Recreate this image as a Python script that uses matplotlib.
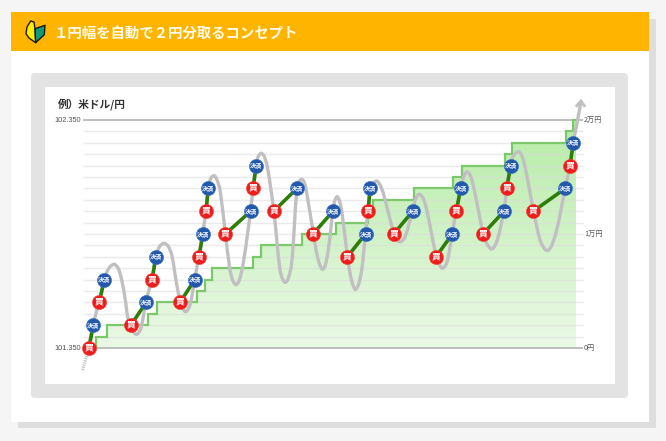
import numpy as np
import matplotlib
matplotlib.use('Agg')
import matplotlib.pyplot as plt
from matplotlib.patches import Rectangle, FancyBboxPatch, Polygon, PathPatch
from matplotlib.path import Path
from matplotlib.colors import LinearSegmentedColormap

plt.rcParams['font.family'] = ['Noto Sans CJK JP', 'DejaVu Sans']

TITLE = '１円幅を自動で２円分取るコンセプト'
SUBTITLE = '例）米ドル/円'
PRICE_LOW, PRICE_HIGH = 101.35, 102.35
PROFIT_LABELS = ['0円', '1万円', '2万円']
PROFIT_TICKS = [0, 10000, 20000]

# x is the time position (no scale on the chart), y the price
buy_x = [89, 99.3, 131, 152, 180, 199, 206, 225.3, 253, 273.7, 313, 347.3, 368, 393.7, 436, 456.3, 483, 506.7, 533.3, 570]
buy_y = [101.35, 101.55, 101.45, 101.65, 101.55, 101.75, 101.95, 101.85, 102.05, 101.95, 101.85, 101.75, 101.95, 101.85, 101.75, 101.95, 101.85, 102.05, 101.95, 102.15]
sell_x = [93.3, 104.3, 146, 156, 194.8, 202.8, 208.3, 250.7, 256.3, 297, 333, 365.5, 370.2, 412.7, 452.3, 460.7, 504, 510.7, 565.3, 573.3]
sell_y = [101.45, 101.65, 101.55, 101.75, 101.65, 101.85, 102.05, 101.95, 102.15, 102.05, 101.95, 101.85, 102.05, 101.95, 101.85, 102.05, 101.95, 102.15, 102.05, 102.25]

# profit line: one step of 1000 yen per closed trade
step_x = [96, 106.7, 147.7, 156.7, 196.7, 205.3, 211.7, 252.7, 260.7, 302.3, 335.7, 367.5, 372.7, 414, 453.3, 462.3, 505, 512.3, 566, 573.3]
step_yen = [1000, 2000, 3000, 4000, 5000, 6000, 7000, 8000, 9000, 10000, 11000, 12000, 13000, 14000, 15000, 16000, 17000, 18000, 19000, 20000]

# price curve
curve_x = [88, 93.3, 99.3, 104.3, 109, 114, 118, 121.7, 125, 128.3, 132, 136.7, 141, 146, 152, 156, 160, 164, 168, 171.7, 176, 180, 183, 186, 190,
           194.8, 199, 202.8, 206, 208.3, 211, 214.3, 217, 220, 225.3, 230, 233, 236, 239, 243.3, 250.7, 253, 256.3, 258.5, 261.3, 264, 267.3, 273.7,
           280, 283, 285.3, 288, 291.7, 297, 299.5, 302, 304.5, 306.7, 313.3, 318, 322.3, 325, 328.3, 333, 335, 337.3, 339.5, 342, 347.3, 351, 355, 358,
           361.7, 365.5, 368, 370.2, 373, 376.7, 380, 383.3, 393.7, 397, 400.7, 405, 412.7, 416, 419.3, 423, 426.7, 436, 439, 442.7, 447, 452.3, 456.3,
           460.7, 464, 467.3, 471, 475, 483, 487, 492, 497, 504, 506.7, 510.7, 514, 518.3, 521.5, 525, 533.3, 540, 544, 547.3, 551, 556.7, 565.3, 570, 573.3, 576.7, 581]
curve_y = [350, 324, 301, 279, 268, 264.3, 268, 280, 298, 320, 330, 334.3, 328, 301, 279, 255.3, 246, 243.3, 246, 255, 280, 301, 309, 311.7, 305,
           279, 255.3, 233, 210, 188, 178, 175.7, 180, 190, 233, 270, 281, 284.7, 281, 263, 210, 188, 164, 156, 153.3, 156, 166.7, 210,
           270, 280, 282.3, 279, 263, 188, 181, 179.3, 183, 193, 233, 259, 269.3, 266, 250, 210, 200, 196.7, 201, 213, 255.3, 278, 289.3, 286,
           270, 233, 210, 188, 184, 181, 185, 193.3, 233, 240, 241.7, 237, 210, 198, 194.3, 198, 210, 255.3, 264, 268.3, 262, 233, 210,
           188, 176, 171.7, 177, 193.3, 233, 244, 249, 241, 210, 188, 164, 155, 151.7, 155, 166.7, 210, 240, 248, 250.7, 247, 230, 188, 164, 142, 125, 101]
dotted_x = [82.7, 84, 85.5, 87.3]
dotted_y = [370, 365.5, 360, 355]

W, H = 666, 441
Y_BASE, Y_TOP = 348.0, 120.0


def price_of(py):
    return PRICE_LOW + (Y_BASE - np.asarray(py, dtype=float)) / (Y_BASE - Y_TOP) * (PRICE_HIGH - PRICE_LOW)


def smooth_path(xs, pys):
    # bezier through the read points, handles scaled by pixel distance so uneven spacing does not kink
    px = np.column_stack([xs, pys])
    d = np.hypot(*np.diff(px, axis=0).T)
    tan = np.zeros_like(px)
    tan[0] = (px[1] - px[0]) / d[0]
    tan[-1] = (px[-1] - px[-2]) / d[-1]
    for i in range(1, len(px) - 1):
        tan[i] = (px[i + 1] - px[i - 1]) / (d[i - 1] + d[i])
    verts = [px[0]]
    codes = [Path.MOVETO]
    for i in range(len(px) - 1):
        verts += [px[i] + tan[i] * d[i] / 3, px[i + 1] - tan[i + 1] * d[i] / 3, px[i + 1]]
        codes += [Path.CURVE4] * 3
    verts = np.array(verts)
    verts[:, 1] = price_of(verts[:, 1])
    return Path(verts, codes)


fig = plt.figure(figsize=(W / 100, H / 100), dpi=100, facecolor='#f5f5f5')

# page furniture, in pixels
bg = fig.add_axes([0, 0, 1, 1])
bg.set_xlim(0, W)
bg.set_ylim(H, 0)
bg.axis('off')
bg.add_patch(Rectangle((18, 19), 638, 409, fc='#dedede', ec='none'))
bg.add_patch(Rectangle((11, 12), 638, 410, fc='white', ec='none'))
bg.add_patch(Rectangle((11, 12), 638, 39, fc='#ffb500', ec='none'))
bg.add_patch(FancyBboxPatch((31, 73), 597, 325, boxstyle='round,pad=0,rounding_size=4',
                            fc='#e3e3e3', ec='none'))
bg.add_patch(Rectangle((45, 87), 570, 297, fc='white', ec='none'))

# beginner mark in the header
bg.add_patch(Polygon([(30.7, 21), (34, 22), (35, 28.7), (35.7, 42.7), (29, 38), (26, 33.7), (27, 27)],
                     closed=True, fc='#ffec00', ec='#1a1a1a', lw=1, joinstyle='round'))
bg.add_patch(Polygon([(35, 28.7), (45, 25.3), (44.3, 34.7), (35.7, 42.7)],
                     closed=True, fc='#129a78', ec='#1a1a1a', lw=1, joinstyle='round'))

bg.text(54, 33.5, TITLE, color='#fffbe8', fontsize=10.35, fontweight='bold', va='center', ha='left')
bg.text(58, 104, SUBTITLE, color='#333333', fontsize=7.7, fontweight='bold', va='center', ha='left')

# chart, x in time position and y in price
ax = fig.add_axes([0, 0, 1, 1], facecolor='none')
ax.set_xlim(0, W)
ax.set_ylim(price_of(H), price_of(0))
ax.axis('off')

step_px = [96] + step_x + [576]
step_val = [0] + step_yen + [step_yen[-1]]
step_price = [PRICE_LOW + v / 20000 for v in step_val]

# profit area
xs = []
ys = []
for i in range(len(step_px) - 1):
    xs += [step_px[i], step_px[i + 1]]
    ys += [step_price[i], step_price[i]]
cmap = LinearSegmentedColormap.from_list('area', ['#b6eca6', '#ebf9e7'])
im = ax.imshow(np.linspace(0, 1, 256)[:, None], cmap=cmap, aspect='auto', zorder=1,
               extent=[96, 576, PRICE_LOW, PRICE_HIGH], origin='upper')
clip = Polygon(list(zip(xs, ys)) + [(576, PRICE_LOW), (96, PRICE_LOW)], closed=True,
               transform=ax.transData, fc='none', ec='none')
ax.add_patch(clip)
im.set_clip_path(clip)
ax.set_xlim(0, W)
ax.set_ylim(price_of(H), price_of(0))

# grid, every 0.05
levels = np.arange(21) * 0.05 + PRICE_LOW
for i, lv in enumerate(levels):
    if i in (0, 20):
        ax.plot([83, 583], [lv, lv], color='#b9b9b9', lw=1.3, zorder=2, solid_capstyle='butt')
    else:
        ax.plot([83, 583], [lv, lv], color='#dcdcdc', lw=1.0, alpha=0.6, zorder=2, solid_capstyle='butt')

ax.plot(xs, ys, color='#7cc96b', lw=1.6, zorder=3, solid_joinstyle='miter')
ax.plot([96, 96], [PRICE_LOW, step_price[1]], color='#7cc96b', lw=1.2, zorder=3)

# price curve
curve = smooth_path(curve_x, curve_y)
ax.add_patch(PathPatch(curve, fc='none', ec='#c1bfc1', lw=2.4, zorder=4, capstyle='butt'))
ax.plot(dotted_x, price_of(dotted_y), color='#c1bfc1', lw=2.3, ls=(0, (0.35, 0.35)), zorder=4)
ax.plot([576.7, 581, 584.3], price_of([105.7, 101, 105.7]), color='#c1bfc1', lw=2, zorder=4,
        solid_joinstyle='miter')

# trades
for i in range(len(buy_x)):
    ax.plot([buy_x[i], sell_x[i]], [buy_y[i], sell_y[i]], color='#2e7d0b', lw=2.6, zorder=5,
            solid_capstyle='butt')
ax.plot(buy_x, buy_y, ls='none', marker='o', ms=10.2, mfc='#ee1c1c', mec='#f04a3c', mew=0.4, zorder=6)
ax.plot(sell_x, sell_y, ls='none', marker='o', ms=10.2, mfc='#2358ab', mec='#3f78c4', mew=0.4, zorder=6)
for x, y in zip(buy_x, buy_y):
    ax.text(x, y, '買', color='white', fontsize=6.4, fontweight='bold', ha='center', va='center', zorder=7)
for x, y in zip(sell_x, sell_y):
    ax.text(x, y, '決済', color='white', fontsize=4.4, fontweight='bold', ha='center', va='center', zorder=7)

# labels
for lv, lab in [(PRICE_LOW, '101.350'), (PRICE_HIGH, '102.350')]:
    ax.text(81, lv, lab, color='#555555', fontsize=5.3, ha='right', va='center', family='Liberation Sans')
for yen, lab in zip(PROFIT_TICKS, PROFIT_LABELS):
    ax.text(584, PRICE_LOW + yen / 20000, lab, color='#555555', fontsize=5.2, ha='left', va='center')

fig.savefig('out.png', dpi=100)
